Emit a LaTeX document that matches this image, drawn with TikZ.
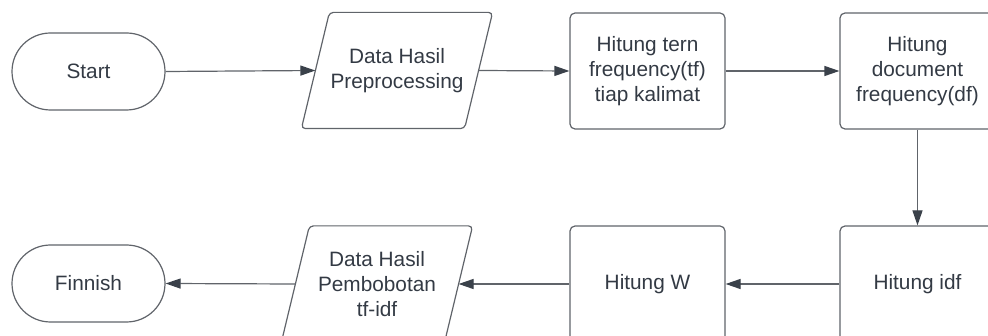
\documentclass[tikz,border=0pt]{standalone}
\usepackage{fontspec}
\setmainfont{Liberation Sans}
\usetikzlibrary{arrows.meta}
\definecolor{edge}{RGB}{96,100,106}
\definecolor{tipc}{RGB}{58,65,74}
\definecolor{ink}{RGB}{51,58,68}
\tikzset{
  base/.style={draw=edge, line width=1.2pt, text=ink, align=center, inner sep=0pt,
    font=\fontsize{20.8}{25}\selectfont},
  terminal/.style={base, rectangle, rounded corners=38.5pt, minimum width=153pt, minimum height=77pt},
  process/.style={base, rectangle, rounded corners=5pt, minimum width=155pt, minimum height=116pt},
  % the data node is the slanted box's mid-band; its frame is drawn by \slantframe
  io/.style={base, draw=none, rectangle, minimum width=162pt, minimum height=115pt},
  frame/.style={draw=edge, line width=1.2pt, rounded corners=4pt},
  flow/.style={draw=edge, line width=1.2pt,
    -{Triangle[length=15pt, width=10pt, fill=tipc, color=tipc]}}
}
% parallelogram outline around a data node, slanted 28pt over its height
\newcommand\slantframe[1]{%
  \draw[frame] ([xshift=14pt]#1.north west) -- ([xshift=14pt]#1.north east)
    -- ([xshift=-14pt]#1.south east) -- ([xshift=-14pt]#1.south west) -- cycle;}
\begin{document}
\begin{tikzpicture}[x=1pt, y=-1pt]
  \useasboundingbox (0,0) rectangle (988,336);
  \clip (0,0) rectangle (988,336);
  % top row
  \node[terminal] (start) at (88.5,71.5) {Start};
  \node[io]       (data)  at (397,70.5)  {Data Hasil\\Preprocessing};
  \slantframe{data}
  \node[process]  (tf)    at (647.5,71)  {Hitung tern\\frequency(tf)\\tiap kalimat};
  \node[process]  (df)    at (917.5,71)  {Hitung\\document\\frequency(df)};
  % bottom row
  \node[process]  (idf)   at (917.5,284) {Hitung idf};
  \node[process]  (w)     at (647.5,284) {Hitung W};
  \node[io]       (bobot) at (377,284)   {Data Hasil\\Pembobotan\\tf-idf};
  \slantframe{bobot}
  \node[terminal] (finish) at (88.5,283.5) {Finnish};
  % connectors
  \draw[flow] (start.east) -- (data.west);
  \draw[flow] (data.east) -- (tf.west);
  \draw[flow] (tf.east) -- (df.west);
  \draw[flow] (df.south) -- (idf.north);
  \draw[flow] (idf.west) -- (w.east);
  \draw[flow] (w.west) -- (bobot.east);
  \draw[flow] (bobot.west) -- (finish.east);
\end{tikzpicture}
\end{document}
